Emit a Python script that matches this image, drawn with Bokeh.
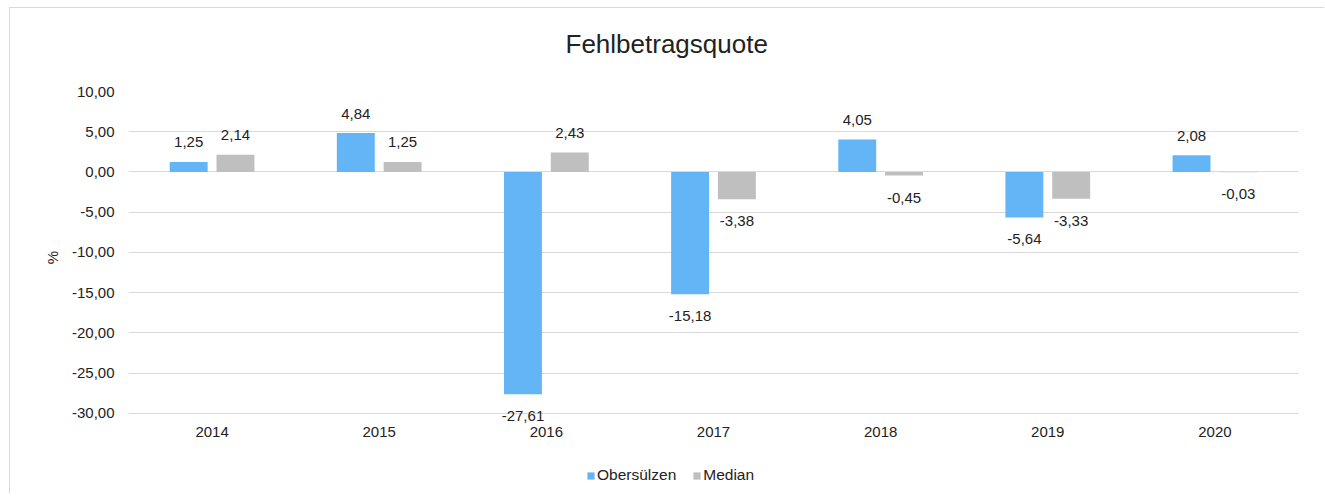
from bokeh.plotting import figure
from bokeh.layouts import column
from bokeh.models import (ColumnDataSource, FixedTicker, CustomJSTickFormatter, Title,
                          Legend, LegendItem, Range1d)
from bokeh.transform import dodge
from bokeh.core.properties import value
from bokeh.embed import file_html
from bokeh.resources import INLINE

# ---- data ----
years = ["2014", "2015", "2016", "2017", "2018", "2019", "2020"]
obersuelzen = [1.25, 4.84, -27.61, -15.18, 4.05, -5.64, 2.08]
median = [2.14, 1.25, 2.43, -3.38, -0.45, -3.33, -0.03]
y_ticks = [10, 5, 0, -5, -10, -15, -20, -25, -30]
series_names = ["Obersülzen", "Median"]
title_text = "Fehlbetragsquote"
y_label = "%"

BLUE = "#64B5F6"
GRAY = "#BFBFBF"
TEXT = "#222222"
GRID = "#D9D9D9"
FONT = "Liberation Sans"


def fmt(v):
    return f"{v:.2f}".replace(".", ",")


def off(v):
    return -19.5 if v >= 0 else 22


src = ColumnDataSource(dict(
    year=years,
    ob=obersuelzen,
    med=median,
    ob_lbl=[fmt(v) for v in obersuelzen],
    med_lbl=[fmt(v) for v in median],
    ob_off=[off(v) for v in obersuelzen],
    med_off=[off(v) for v in median],
))

p = figure(x_range=years, y_range=Range1d(-31.25, 10),
           frame_width=1170, frame_height=332,
           output_backend="svg", toolbar_location=None,
           min_border_left=118, min_border_right=26,
           min_border_top=83, min_border_bottom=28)
p.outline_line_color = None
p.background_fill_color = "white"
p.border_fill_color = "white"

p.xgrid.grid_line_color = None
p.ygrid.grid_line_color = GRID
p.ygrid.grid_line_width = 1
p.yaxis.ticker = FixedTicker(ticks=y_ticks)
p.yaxis.formatter = CustomJSTickFormatter(code="return tick.toFixed(2).replace('.', ',');")

for ax in (p.xaxis, p.yaxis):
    ax.axis_line_color = None
    ax.major_tick_line_color = None
    ax.minor_tick_line_color = None
    ax.major_tick_in = 0
    ax.major_tick_out = 0
    ax.major_label_text_font = FONT
    ax.major_label_text_font_size = "15px"
    ax.major_label_text_color = TEXT
p.xaxis.major_label_standoff = 3
p.yaxis.major_label_standoff = 14
p.yaxis.axis_label = y_label
p.yaxis.axis_label_text_font = FONT
p.yaxis.axis_label_text_font_size = "15px"
p.yaxis.axis_label_text_font_style = "normal"
p.yaxis.axis_label_text_color = TEXT
p.yaxis.axis_label_standoff = 8

p.vbar(x=dodge("year", -0.14, range=p.x_range), top="ob", bottom=0, width=0.227,
       source=src, fill_color=BLUE, line_color=None)
p.vbar(x=dodge("year", 0.14, range=p.x_range), top="med", bottom=0, width=0.227,
       source=src, fill_color=GRAY, line_color=None)

p.text(x=dodge("year", -0.14, range=p.x_range), y="ob", text="ob_lbl", y_offset="ob_off",
       source=src, text_align="center", text_baseline="middle",
       text_font=value(FONT), text_font_size="15px", text_color=TEXT)
p.text(x=dodge("year", 0.14, range=p.x_range), y="med", text="med_lbl", y_offset="med_off",
       source=src, text_align="center", text_baseline="middle",
       text_font=value(FONT), text_font_size="15px", text_color=TEXT)

# spacer (closest to the frame), then the real title further out
p.add_layout(Title(text=" ", text_font_size="1px", standoff=29), "above")
p.add_layout(Title(text=title_text, align="left", offset=437, standoff=2,
                   text_font=FONT, text_font_size="26px", text_font_style="normal",
                   text_color=TEXT), "above")

# ---- legend strip (separate small figure below the chart, frames aligned) ----
pl = figure(width=1314, height=42, x_range=p.x_range, y_range=Range1d(100, 101),
            output_backend="svg", toolbar_location=None,
            x_axis_type=None, y_axis_type=None,
            min_border_left=0, min_border_right=0, min_border_top=0, min_border_bottom=0)
pl.outline_line_color = None
pl.grid.visible = False
pl.background_fill_color = "white"
pl.border_fill_color = "white"
# same series, drawn outside this strip's visible range: only their legend swatches show
l1 = pl.vbar(x=dodge("year", -0.14, range=pl.x_range), top="ob", bottom=0, width=0.227,
             source=src, fill_color=BLUE, line_color=None)
l2 = pl.vbar(x=dodge("year", 0.14, range=pl.x_range), top="med", bottom=0, width=0.227,
             source=src, fill_color=GRAY, line_color=None)

legend = Legend(items=[LegendItem(label=series_names[0], renderers=[l1]),
                       LegendItem(label=series_names[1], renderers=[l2])],
                orientation="horizontal", location=(458, 9),
                padding=0, margin=0, spacing=16, label_standoff=2,
                glyph_width=9, glyph_height=9,
                label_text_font=FONT, label_text_font_size="15.5px",
                label_text_color=TEXT, border_line_color=None,
                background_fill_alpha=0)
pl.add_layout(legend, "center")

layout = column(p, pl, spacing=0)
layout.styles = {"margin-left": "9px", "margin-top": "7px",
                 "border-left": "1px solid #D9D9D9", "border-top": "1px solid #D9D9D9"}

open("out.html", "w").write(file_html(layout, INLINE))
